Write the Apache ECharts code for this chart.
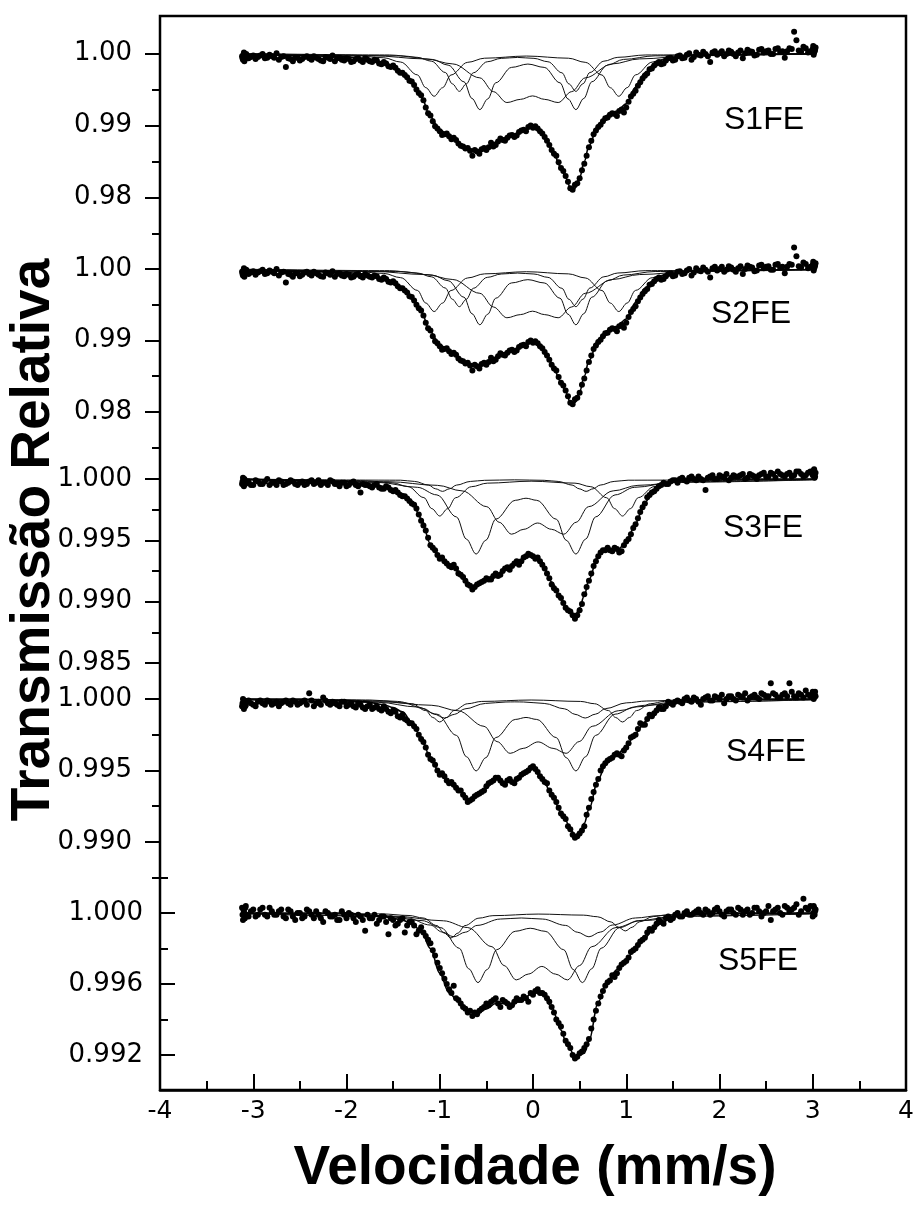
<!DOCTYPE html>
<html>
<head>
<meta charset="utf-8">
<title>Espectros Mössbauer S1FE–S5FE</title>
<script src="https://cdn.jsdelivr.net/npm/echarts@6/dist/echarts.min.js"></script>
<style>
  html, body { margin: 0; padding: 0; background: #fff; }
  #chart { width: 919px; height: 1208px; }
</style>
</head>
<body>
<div id="chart"></div>
<script>
// ---------------- data ----------------
// channel velocities (mm/s) of the two halves of the sweep
const velocitySweep1 = [-3.12,-3.11,-3.10,-3.09,-3.08,-3.05,-3.00,-2.95,-2.90,-2.85,-2.80,-2.75,-2.70,-2.65,-2.60,-2.55,-2.50,-2.45,-2.40,-2.35,-2.30,-2.25,-2.20,-2.15,-2.10,-2.05,-2.00,-1.95,-1.90,-1.85,-1.80,-1.75,-1.70,-1.65,-1.60,-1.55,-1.50,-1.45,-1.40,-1.35,-1.30,-1.25,-1.20,-1.15,-1.10,-1.05,-1.00,-0.95,-0.90,-0.85,-0.80,-0.75,-0.70,-0.65,-0.60,-0.55,-0.50,-0.45,-0.40,-0.35,-0.30,-0.25,-0.20,-0.15,-0.10,-0.05,0.00,0.05,0.10,0.15,0.20,0.25,0.30,0.35,0.40,0.45,0.50,0.55,0.60,0.65,0.70,0.75,0.80,0.85,0.90,0.95,1.00,1.05,1.10,1.15,1.20,1.25,1.30,1.35,1.40,1.45,1.50,1.55,1.60,1.65,1.70,1.75,1.80,1.85,1.90,1.95,2.00,2.05,2.10,2.15,2.20,2.25,2.30,2.35,2.40,2.45,2.50,2.55,2.60,2.65,2.70,2.75,2.80,2.85,2.90,2.95,3.00,3.01,3.02,3.03];
const velocitySweep2 = [-3.115,-3.105,-3.095,-3.085,-3.075,-3.025,-2.975,-2.925,-2.875,-2.825,
-2.775,-2.725,-2.675,-2.625,-2.575,-2.525,-2.475,-2.425,-2.375,-2.325,
-2.275,-2.225,-2.175,-2.125,-2.075,-2.025,-1.975,-1.925,-1.875,-1.825,
-1.775,-1.725,-1.675,-1.625,-1.575,-1.525,-1.475,-1.425,-1.375,-1.325,
-1.275,-1.225,-1.175,-1.125,-1.075,-1.025,-0.975,-0.925,-0.875,-0.825,
-0.775,-0.725,-0.675,-0.625,-0.575,-0.525,-0.475,-0.425,-0.375,-0.325,
-0.275,-0.225,-0.175,-0.125,-0.075,-0.025,0.025,0.075,0.125,0.175,
0.225,0.275,0.325,0.375,0.425,0.475,0.525,0.575,0.625,0.675,
0.725,0.775,0.825,0.875,0.925,0.975,1.025,1.075,1.125,1.175,
1.225,1.275,1.325,1.375,1.425,1.475,1.525,1.575,1.625,1.675,
1.725,1.775,1.825,1.875,1.925,1.975,2.025,2.075,2.125,2.175,
2.225,2.275,2.325,2.375,2.425,2.475,2.525,2.575,2.625,2.675,
2.725,2.775,2.825,2.875,2.925,2.975,3.005,3.015,3.025];

// measured relative transmission, first half of the sweep
const s1Transmission = [0.9996,0.9991,1.0001,0.9994,0.9998,0.9993,0.9997,0.9995,0.9999,0.9994,
0.9996,1.0000,0.9995,0.9981,0.9992,0.9994,0.9990,0.9995,0.9993,0.9996,
0.9992,0.9989,0.9994,0.9997,0.9993,0.9991,0.9993,0.9988,0.9992,0.9990,
0.9993,0.9989,0.9991,0.9986,0.9988,0.9982,0.9983,0.9976,0.9973,0.9967,
0.9961,0.9950,0.9942,0.9925,0.9914,0.9899,0.9892,0.9888,0.9885,0.9883,
0.9875,0.9871,0.9869,0.9858,0.9864,0.9867,0.9866,0.9876,0.9873,0.9882,
0.9879,0.9886,0.9884,0.9891,0.9894,0.9898,0.9897,0.9896,0.9889,0.9879,
0.9866,0.9858,0.9841,0.9830,0.9813,0.9818,0.9827,0.9847,0.9870,0.9888,
0.9898,0.9906,0.9911,0.9917,0.9913,0.9922,0.9925,0.9940,0.9948,0.9960,
0.9969,0.9978,0.9983,0.9988,0.9986,0.9993,0.9990,0.9996,0.9993,0.9998,
0.9991,1.0001,0.9997,0.9999,0.9988,1.0003,1.0000,0.9996,1.0004,0.9999,
1.0001,0.9993,1.0005,1.0002,0.9998,1.0006,1.0003,0.9999,1.0006,1.0002,
0.9994,1.0007,1.0030,1.0004,1.0009,1.0001,1.0006,0.9998,1.0003,1.0008];
const s2Transmission = s1Transmission.slice();
const s3Transmission = [0.9996,1.0001,0.9994,0.9999,0.9997,0.9998,0.9995,0.9998,0.9996,1.0000,
0.9997,0.9995,0.9998,0.9996,0.9999,0.9996,0.9997,0.9995,0.9998,0.9996,
0.9999,0.9997,0.9995,0.9998,0.9996,0.9997,0.9994,0.9997,0.9995,0.9989,
0.9995,0.9994,0.9995,0.9993,0.9992,0.9993,0.9990,0.9989,0.9986,0.9984,
0.9980,0.9976,0.9966,0.9958,0.9946,0.9942,0.9935,0.9933,0.9929,0.9930,
0.9923,0.9920,0.9914,0.9910,0.9914,0.9916,0.9919,0.9918,0.9923,0.9922,
0.9927,0.9926,0.9931,0.9930,0.9936,0.9939,0.9937,0.9936,0.9930,0.9923,
0.9914,0.9909,0.9903,0.9895,0.9892,0.9886,0.9893,0.9906,0.9917,0.9929,
0.9937,0.9942,0.9944,0.9941,0.9943,0.9941,0.9949,0.9955,0.9963,0.9973,
0.9980,0.9987,0.9990,0.9994,0.9997,0.9996,0.9999,0.9997,1.0001,0.9998,
1.0002,0.9999,1.0000,0.9991,1.0002,1.0000,1.0003,1.0001,0.9999,1.0003,
1.0002,1.0004,1.0001,1.0003,1.0000,1.0004,1.0002,1.0005,1.0001,1.0004,
1.0002,1.0005,1.0003,1.0006,1.0002,1.0005,1.0003,1.0007,1.0001,1.0005];
const s4Transmission = [0.9995,1.0000,0.9993,0.9998,0.9996,0.9999,0.9996,0.9998,0.9997,0.9999,
0.9996,0.9998,0.9997,0.9999,0.9996,0.9998,0.9997,0.9999,1.0004,0.9995,
0.9998,1.0001,0.9997,0.9998,0.9996,0.9998,0.9995,0.9997,0.9994,0.9996,
0.9993,0.9996,0.9994,0.9993,0.9995,0.9991,0.9992,0.9988,0.9989,0.9985,
0.9983,0.9979,0.9972,0.9966,0.9958,0.9954,0.9947,0.9946,0.9941,0.9940,
0.9936,0.9933,0.9928,0.9930,0.9933,0.9935,0.9939,0.9942,0.9945,0.9943,
0.9940,0.9944,0.9941,0.9945,0.9948,0.9950,0.9953,0.9949,0.9944,0.9941,
0.9933,0.9928,0.9920,0.9916,0.9909,0.9903,0.9906,0.9911,0.9924,0.9935,
0.9944,0.9953,0.9957,0.9959,0.9962,0.9960,0.9966,0.9973,0.9975,0.9983,
0.9982,0.9989,0.9990,0.9994,0.9993,0.9998,0.9996,0.9999,0.9997,1.0001,
0.9998,1.0000,0.9996,1.0001,0.9999,1.0002,1.0000,0.9997,1.0002,1.0000,
1.0003,1.0001,0.9999,1.0002,1.0001,1.0004,1.0002,1.0011,1.0003,1.0001,
1.0004,1.0011,1.0002,1.0004,1.0001,1.0003,1.0005,1.0000,1.0003,1.0002];
const s5Transmission = [1.0003,0.9996,1.0001,0.9997,1.0004,0.9998,1.0002,0.9999,1.0003,0.9998,
1.0001,0.9999,1.0002,0.9997,1.0001,0.9996,1.0000,0.9998,1.0001,0.9997,
0.9999,0.9995,1.0000,0.9998,0.9996,1.0001,0.9997,0.9999,0.9995,0.9998,
0.9990,0.9997,0.9999,0.9996,0.9998,0.9988,0.9996,0.9994,0.9997,0.9993,
0.9995,0.9988,0.9992,0.9987,0.9983,0.9976,0.9969,0.9963,0.9957,0.9959,
0.9951,0.9947,0.9944,0.9942,0.9943,0.9946,0.9949,0.9950,0.9952,0.9947,
0.9950,0.9947,0.9950,0.9951,0.9953,0.9950,0.9954,0.9957,0.9955,0.9952,
0.9947,0.9940,0.9936,0.9928,0.9924,0.9918,0.9921,0.9924,0.9929,0.9940,
0.9949,0.9956,0.9961,0.9965,0.9966,0.9971,0.9973,0.9978,0.9980,0.9984,
0.9986,0.9991,0.9992,0.9996,0.9994,0.9998,0.9997,1.0000,0.9998,1.0001,
0.9999,1.0001,1.0000,1.0002,0.9999,1.0002,1.0001,0.9998,1.0002,1.0000,
1.0003,0.9999,1.0002,1.0000,1.0003,0.9998,1.0001,0.9996,1.0002,1.0000,
1.0004,1.0001,1.0003,0.9999,1.0008,1.0002,0.9998,1.0004,0.9999,1.0002];

// measured relative transmission, second half of the sweep
const s1TransmissionB = [0.9993,0.9998,0.9989,0.9996,0.9999,0.9995,0.9992,0.9997,0.9993,0.9998,
0.9994,0.9991,0.9996,0.9993,0.9989,0.9994,0.9992,0.9996,0.9991,0.9994,
0.9990,0.9995,0.9992,0.9989,0.9994,0.9990,0.9992,0.9989,0.9993,0.9988,
0.9991,0.9988,0.9990,0.9985,0.9986,0.9981,0.9980,0.9973,0.9970,0.9962,
0.9956,0.9945,0.9935,0.9917,0.9906,0.9896,0.9887,0.9889,0.9881,0.9880,
0.9872,0.9868,0.9865,0.9866,0.9861,0.9869,0.9870,0.9871,0.9878,0.9880,
0.9883,0.9887,0.9886,0.9893,0.9892,0.9900,0.9899,0.9892,0.9884,0.9873,
0.9861,0.9849,0.9837,0.9822,0.9811,0.9820,0.9838,0.9858,0.9879,0.9893,
0.9901,0.9910,0.9915,0.9916,0.9920,0.9918,0.9933,0.9944,0.9955,0.9965,
0.9972,0.9979,0.9986,0.9985,0.9990,0.9994,0.9991,0.9997,0.9994,1.0000,
0.9995,0.9998,1.0002,0.9996,1.0001,0.9998,1.0003,0.9999,1.0002,0.9996,
1.0004,1.0000,1.0003,0.9997,1.0005,1.0001,1.0004,0.9999,1.0007,1.0003,
1.0003,1.0006,1.0018,1.0002,1.0007,1.0003,1.0010,1.0001,1.0005];
const s2TransmissionB = s1TransmissionB.slice();
const s3TransmissionB = [0.9998,0.9995,1.0000,0.9996,0.9997,0.9995,0.9999,0.9996,0.9998,0.9995,
0.9997,0.9999,0.9995,0.9997,0.9998,0.9995,0.9998,0.9996,0.9999,0.9997,
0.9995,0.9997,0.9999,0.9996,0.9994,0.9997,0.9995,0.9998,0.9994,0.9996,
0.9995,0.9993,0.9996,0.9992,0.9994,0.9991,0.9991,0.9987,0.9986,0.9982,
0.9979,0.9971,0.9962,0.9952,0.9944,0.9938,0.9936,0.9931,0.9928,0.9927,
0.9922,0.9917,0.9913,0.9912,0.9915,0.9917,0.9918,0.9921,0.9921,0.9925,
0.9928,0.9929,0.9933,0.9933,0.9937,0.9938,0.9935,0.9933,0.9927,0.9919,
0.9911,0.9905,0.9899,0.9893,0.9889,0.9889,0.9898,0.9912,0.9923,0.9933,
0.9940,0.9942,0.9942,0.9944,0.9940,0.9946,0.9951,0.9960,0.9968,0.9977,
0.9985,0.9989,0.9992,0.9995,0.9996,0.9998,0.9999,1.0000,0.9999,1.0001,
1.0000,1.0002,0.9999,1.0001,1.0003,1.0000,1.0002,1.0004,1.0001,1.0002,
1.0003,1.0000,1.0004,1.0002,1.0003,1.0005,1.0002,1.0004,1.0006,1.0003,
1.0004,1.0002,1.0006,1.0004,1.0003,1.0006,1.0004,1.0008,1.0002];
const s4TransmissionB = [0.9997,0.9994,0.9999,0.9995,0.9998,0.9997,0.9995,0.9999,0.9996,0.9998,
0.9997,0.9995,0.9998,0.9997,0.9999,0.9996,0.9998,0.9996,0.9999,0.9997,
0.9996,0.9999,0.9996,0.9997,0.9995,0.9998,0.9996,0.9995,0.9997,0.9994,
0.9995,0.9993,0.9995,0.9992,0.9993,0.9990,0.9991,0.9987,0.9986,0.9983,
0.9981,0.9975,0.9970,0.9961,0.9957,0.9950,0.9948,0.9943,0.9942,0.9938,
0.9936,0.9931,0.9929,0.9932,0.9934,0.9936,0.9941,0.9943,0.9945,0.9941,
0.9943,0.9942,0.9944,0.9947,0.9949,0.9952,0.9951,0.9946,0.9942,0.9936,
0.9931,0.9924,0.9918,0.9911,0.9905,0.9904,0.9908,0.9919,0.9930,0.9940,
0.9950,0.9955,0.9958,0.9961,0.9961,0.9964,0.9969,0.9974,0.9979,0.9982,
0.9986,0.9988,0.9992,0.9993,0.9995,0.9997,0.9998,0.9998,1.0000,0.9999,
1.0001,0.9998,1.0000,1.0002,0.9999,1.0001,1.0003,1.0000,1.0002,0.9999,
1.0002,1.0004,1.0001,1.0003,1.0000,1.0003,1.0002,1.0004,1.0001,1.0003,
1.0002,1.0005,1.0001,1.0003,1.0006,1.0002,1.0004,1.0001,1.0005];
const s5TransmissionB = [0.9999,1.0002,0.9997,1.0003,0.9999,1.0001,0.9998,1.0002,0.9999,1.0003,
0.9999,1.0001,0.9998,1.0002,0.9998,1.0000,0.9997,1.0002,0.9999,1.0001,
0.9997,1.0001,0.9998,0.9999,0.9996,0.9999,1.0000,0.9997,0.9999,0.9996,
0.9999,0.9997,0.9994,0.9998,0.9995,0.9997,0.9993,0.9996,0.9989,0.9995,
0.9993,0.9990,0.9989,0.9985,0.9979,0.9972,0.9966,0.9960,0.9955,0.9952,
0.9949,0.9946,0.9945,0.9944,0.9945,0.9947,0.9948,0.9951,0.9949,0.9951,
0.9949,0.9948,0.9952,0.9951,0.9952,0.9955,0.9956,0.9955,0.9954,0.9950,
0.9944,0.9938,0.9932,0.9926,0.9920,0.9919,0.9922,0.9926,0.9935,0.9945,
0.9953,0.9959,0.9962,0.9964,0.9969,0.9972,0.9975,0.9979,0.9982,0.9985,
0.9989,0.9990,0.9994,0.9995,0.9997,0.9996,0.9999,0.9998,1.0000,0.9999,
1.0000,1.0002,0.9999,1.0001,1.0000,1.0003,0.9999,1.0001,1.0002,0.9999,
1.0002,1.0001,0.9999,1.0003,1.0001,1.0000,1.0004,1.0001,1.0003,0.9999,
1.0003,1.0002,1.0005,1.0001,1.0003,1.0004,1.0000,1.0003,1.0001];

// fitted envelope (sum of sub-spectra)
const fitVelocity = [-3.1,-2.5,-2.0,-1.8,-1.6,-1.5,-1.4,-1.3,-1.2,-1.1,-1.0,-0.9,-0.8,-0.7,-0.65,-0.6,-0.5,-0.4,-0.3,-0.2,-0.1,0,0.1,0.2,0.3,0.35,0.4,0.45,0.5,0.55,0.6,0.7,0.8,0.9,1.0,1.1,1.2,1.3,1.4,1.5,1.7,2.0,2.5,3.03];
const s1Fit = [0.9998,0.9997,0.9995,0.9993,0.9987,0.9982,0.9973,0.9960,0.9940,0.9912,0.9894,0.9886,0.9876,0.9867,0.9864,0.9863,0.9868,0.9877,0.9883,0.9888,0.9895,0.9899,0.9890,0.9868,0.9842,0.9828,0.9814,0.9813,0.9828,0.9850,0.9872,0.9901,0.9914,0.9920,0.9930,0.9953,0.9973,0.9985,0.9991,0.9994,0.9997,0.9998,0.9999,0.9999];
const s2Fit = s1Fit.slice();
const s3Fit = [1.0000,0.9999,0.9998,0.9996,0.9994,0.9992,0.9988,0.9982,0.9968,0.9947,0.9936,0.9931,0.9925,0.9916,0.9912,0.9913,0.9919,0.9922,0.9926,0.9930,0.9935,0.9938,0.9931,0.9916,0.9902,0.9896,0.9891,0.9888,0.9895,0.9905,0.9918,0.9938,0.9943,0.9942,0.9948,0.9964,0.9981,0.9991,0.9996,0.9998,0.9999,1.0000,1.0000,1.0000];
const s4Fit = [1.0000,1.0000,0.9999,0.9998,0.9996,0.9994,0.9991,0.9984,0.9973,0.9959,0.9948,0.9942,0.9937,0.9930,0.9930,0.9932,0.9938,0.9944,0.9942,0.9942,0.9947,0.9951,0.9945,0.9933,0.9921,0.9915,0.9909,0.9905,0.9906,0.9913,0.9923,0.9944,0.9958,0.9961,0.9967,0.9976,0.9984,0.9991,0.9996,0.9998,0.9999,1.0000,1.0000,1.0000];
const s5Fit = [1.0000,1.0000,1.0000,0.9999,0.9998,0.9997,0.9996,0.9994,0.9990,0.9980,0.9966,0.9955,0.9950,0.9945,0.9944,0.9943,0.9946,0.9949,0.9949,0.9949,0.9952,0.9955,0.9955,0.9947,0.9934,0.9928,0.9923,0.9918,0.9920,0.9921,0.9928,0.9950,0.9962,0.9968,0.9974,0.9980,0.9986,0.9992,0.9995,0.9998,0.9999,1.0000,1.0000,1.0000];

// sub-spectra (quadrupole doublets), [velocity, transmission]
const s1DoubletA = [[-3.1,0.99994],[-1.96,0.99975],[-1.6,0.99938],[-1.42,0.99879],[-1.24,0.99701],[-1.15,0.99524],[-1.06,0.99405],[-0.97,0.99523],[-0.88,0.99699],[-0.7,0.99875],[-0.52,0.99932],[-0.07,0.99962],[0.38,0.99932],[0.56,0.99875],[0.74,0.99699],[0.83,0.99523],[0.92,0.99405],[1.01,0.99524],[1.1,0.99701],[1.28,0.99879],[1.46,0.99938],[1.82,0.99975],[3.03,0.99995]];
const s1DoubletB = [[-3.1,0.99995],[-1.42,0.99965],[-1.08,0.99915],[-0.91,0.99836],[-0.74,0.99605],[-0.655,0.99375],[-0.57,0.9922],[-0.485,0.99368],[-0.4,0.99591],[-0.23,0.99805],[-0.055,0.99851],[0.12,0.99805],[0.29,0.99591],[0.375,0.99368],[0.46,0.9922],[0.545,0.99375],[0.63,0.99605],[0.8,0.99836],[0.97,0.99915],[1.31,0.99965],[3.03,0.99995]];
const s1DoubletC = [[-3.1,0.9999],[-1.73,0.99967],[-1.15,0.99922],[-0.86,0.99853],[-0.57,0.9966],[-0.425,0.99469],[-0.28,0.99318],[-0.135,0.99362],[-0.005,0.9941],[0.125,0.99362],[0.27,0.99318],[0.415,0.99469],[0.56,0.9966],[0.85,0.99853],[1.14,0.99922],[1.72,0.99967],[3.03,0.9999]];
const s1DoubletD = [[-3.1,0.99997],[-1.54,0.99977],[-1.24,0.99944],[-1.09,0.99891],[-0.94,0.99734],[-0.865,0.99577],[-0.79,0.99473],[-0.715,0.99576],[-0.64,0.9973],[-0.49,0.99883],[-0.34,0.9993],[-0.165,0.99943],[0.01,0.9993],[0.16,0.99883],[0.31,0.9973],[0.385,0.99576],[0.46,0.99473],[0.535,0.99577],[0.61,0.99734],[0.76,0.99891],[0.91,0.99944],[1.21,0.99977],[3.03,0.99997]];

const s3DoubletA = [[-3.1,0.99998],[-1.85,0.99987],[-1.51,0.99969],[-1.34,0.99938],[-1.17,0.99848],[-1.085,0.99758],[-1.0,0.99698],[-0.915,0.99758],[-0.83,0.99847],[-0.66,0.99937],[-0.49,0.99966],[-0.02,0.99982],[0.45,0.99966],[0.62,0.99937],[0.79,0.99847],[0.875,0.99758],[0.96,0.99698],[1.045,0.99758],[1.13,0.99848],[1.3,0.99938],[1.47,0.99969],[1.81,0.99987],[3.03,0.99997]];
const s3DoubletB = [[-3.1,0.99994],[-1.66,0.99972],[-1.24,0.99932],[-1.03,0.9987],[-0.82,0.9969],[-0.715,0.9951],[-0.61,0.99388],[-0.505,0.99501],[-0.4,0.99672],[-0.19,0.99826],[-0.075,0.99843],[0.04,0.99826],[0.25,0.99672],[0.355,0.99501],[0.46,0.99388],[0.565,0.9951],[0.67,0.9969],[0.88,0.9987],[1.09,0.99932],[1.51,0.99972],[3.03,0.99994]];
const s3DoubletC = [[-3.1,0.99995],[-1.555,0.99978],[-1.025,0.99948],[-0.76,0.99903],[-0.495,0.99774],[-0.3625,0.99647],[-0.23,0.9955],[-0.0975,0.9959],[0.05,0.99641],[0.1975,0.9959],[0.33,0.9955],[0.4625,0.99647],[0.595,0.99774],[0.86,0.99903],[1.125,0.99948],[1.655,0.99978],[3.03,0.99994]];
const s3DoubletD = [[-3.1,0.99999],[-1.42,0.9999],[-1.27,0.9998],[-1.12,0.9995],[-1.045,0.9992],[-0.97,0.99899],[-0.895,0.9992],[-0.82,0.9995],[-0.67,0.9998],[-0.52,0.99989],[-0.2,0.99993],[0.12,0.99989],[0.27,0.9998],[0.42,0.9995],[0.495,0.9992],[0.57,0.99899],[0.645,0.9992],[0.72,0.9995],[0.87,0.9998],[1.02,0.9999],[3.03,0.99999]];

const s4DoubletA = [[-3.1,0.99999],[-1.75,0.99993],[-1.45,0.99983],[-1.3,0.99967],[-1.15,0.99919],[-1.075,0.99871],[-1.0,0.99839],[-0.925,0.99871],[-0.85,0.99919],[-0.7,0.99967],[-0.55,0.99983],[-0.02,0.99993],[0.51,0.99983],[0.66,0.99967],[0.81,0.99919],[0.885,0.99871],[0.96,0.99839],[1.035,0.99871],[1.11,0.99919],[1.26,0.99967],[1.41,0.99983],[1.71,0.99993],[3.03,0.99999]];
const s4DoubletB = [[-3.1,0.99995],[-1.66,0.99977],[-1.24,0.99944],[-1.03,0.99894],[-0.82,0.99745],[-0.715,0.99597],[-0.61,0.99497],[-0.505,0.9959],[-0.4,0.9973],[-0.19,0.99857],[-0.075,0.99871],[0.04,0.99857],[0.25,0.9973],[0.355,0.9959],[0.46,0.99497],[0.565,0.99597],[0.67,0.99745],[0.88,0.99894],[1.09,0.99944],[1.51,0.99977],[3.03,0.99995]];
const s4DoubletC = [[-3.1,0.99995],[-1.645,0.99981],[-1.085,0.99956],[-0.805,0.99918],[-0.525,0.99809],[-0.385,0.99702],[-0.245,0.9962],[-0.105,0.99655],[0.055,0.997],[0.215,0.99655],[0.355,0.9962],[0.495,0.99702],[0.635,0.99809],[0.915,0.99918],[1.195,0.99956],[1.755,0.99981],[3.03,0.99995]];
const s4DoubletD = [[-3.1,0.99998],[-2.05,0.99994],[-1.61,0.99986],[-1.39,0.99973],[-1.17,0.99933],[-1.06,0.99894],[-0.95,0.99867],[-0.84,0.99893],[-0.73,0.99931],[-0.51,0.99969],[-0.29,0.99979],[-0.195,0.9998],[-0.1,0.99979],[0.12,0.99969],[0.34,0.99931],[0.45,0.99893],[0.56,0.99867],[0.67,0.99894],[0.78,0.99933],[1.0,0.99973],[1.22,0.99986],[1.66,0.99994],[3.03,0.99999]];

const s5DoubletA = [[-3.1,0.99999],[-1.63,0.99995],[-1.33,0.99986],[-1.18,0.99972],[-1.03,0.99929],[-0.955,0.99888],[-0.88,0.99859],[-0.805,0.99887],[-0.73,0.99929],[-0.58,0.99971],[-0.43,0.99985],[0.055,0.99994],[0.54,0.99988],[0.69,0.99979],[0.84,0.99949],[0.915,0.9992],[0.99,0.99899],[1.065,0.9992],[1.14,0.9995],[1.29,0.9998],[1.44,0.9999],[1.74,0.99996],[3.03,0.99999]];
const s5DoubletB = [[-3.1,0.99996],[-1.59,0.99982],[-1.19,0.99957],[-0.99,0.99918],[-0.79,0.99801],[-0.69,0.99686],[-0.59,0.99608],[-0.49,0.99682],[-0.39,0.99793],[-0.19,0.99897],[-0.03,0.99914],[0.13,0.99897],[0.33,0.99793],[0.43,0.99682],[0.53,0.99608],[0.63,0.99686],[0.73,0.99801],[0.93,0.99918],[1.13,0.99957],[1.53,0.99982],[3.03,0.99996]];
const s5DoubletC = [[-3.1,0.99996],[-1.48,0.99982],[-0.96,0.99956],[-0.7,0.99918],[-0.44,0.9981],[-0.31,0.99704],[-0.18,0.99623],[-0.05,0.99656],[0.095,0.99699],[0.24,0.99656],[0.37,0.99623],[0.5,0.99704],[0.63,0.9981],[0.89,0.99918],[1.15,0.99956],[1.67,0.99982],[3.03,0.99996]];
const s5DoubletD = [[-3.1,0.99998],[-2.1,0.99994],[-1.6,0.99985],[-1.35,0.99972],[-1.1,0.99932],[-0.975,0.99893],[-0.85,0.99866],[-0.725,0.99892],[-0.6,0.9993],[-0.35,0.99966],[-0.125,0.99972],[0.1,0.99966],[0.35,0.9993],[0.475,0.99892],[0.6,0.99866],[0.725,0.99893],[0.85,0.99932],[1.1,0.99972],[1.35,0.99985],[1.85,0.99994],[3.03,0.99998]];

// sample names and axis ticks
const sampleNames = ['S1FE', 'S2FE', 'S3FE', 'S4FE', 'S5FE'];
const yTickValues = [[1.00, 0.99, 0.98], [1.00, 0.99, 0.98], [1.000, 0.995, 0.990, 0.985], [1.000, 0.995, 0.990], [1.000, 0.996, 0.992]];
const yTickLabels = [['1.00', '0.99', '0.98'], ['1.00', '0.99', '0.98'], ['1.000', '0.995', '0.990', '0.985'], ['1.000', '0.995', '0.990'], ['1.000', '0.996', '0.992']];
const yMinorTicks = [[0.995, 0.985, 0.975], [0.995, 0.985, 0.975], [0.9975, 0.9925, 0.9875], [0.9975, 0.9925, 0.9875], [1.002, 0.998, 0.994]];
const xTickValues = [-4, -3, -2, -1, 0, 1, 2, 3, 4];
const xTickLabels = ['-4', '-3', '-2', '-1', '0', '1', '2', '3', '4'];
const xTitle = 'Velocidade (mm/s)';
const yTitle = 'Transmissão Relativa';

// ---------------- layout ----------------
const PLOT_LEFT = 160, PLOT_RIGHT = 13, PLOT_TOP = 16, PLOT_BOTTOM = 118;
// vertical placement and value window of each stacked spectrum
const panelBoxes = [
  { top: 17.2,  height: 216.6, min: 0.975, max: 1.005, inside: false, margin: 28, label: [764, 120] },
  { top: 233.25, height: 214.5, min: 0.975, max: 1.005, inside: false, margin: 28, label: [751, 314] },
  { top: 448.3, height: 214.7, min: 0.985, max: 1.0025, inside: false, margin: 28, label: [763, 528] },
  { top: 663.25, height: 214.5, min: 0.9875, max: 1.0025, inside: false, margin: 28, label: [766, 752] },
  { top: 877.5, height: 213,   min: 0.990, max: 1.002, inside: true,  margin: 17, label: [758, 961] }
];

const spectra = [
  { sweeps: [s1Transmission, s1TransmissionB], fit: s1Fit, doublets: [s1DoubletA, s1DoubletB, s1DoubletC, s1DoubletD] },
  { sweeps: [s2Transmission, s2TransmissionB], fit: s2Fit, doublets: [s1DoubletA, s1DoubletB, s1DoubletC, s1DoubletD] },
  { sweeps: [s3Transmission, s3TransmissionB], fit: s3Fit, doublets: [s3DoubletA, s3DoubletB, s3DoubletC, s3DoubletD] },
  { sweeps: [s4Transmission, s4TransmissionB], fit: s4Fit, doublets: [s4DoubletA, s4DoubletB, s4DoubletC, s4DoubletD] },
  { sweeps: [s5Transmission, s5TransmissionB], fit: s5Fit, doublets: [s5DoubletA, s5DoubletB, s5DoubletC, s5DoubletD] }
];
const sweepVelocities = [velocitySweep1, velocitySweep2];

const zip = (xs, ys) => xs.map((x, k) => [x, ys[k]]);
const TICK_FONT = 'DejaVu Sans';

const grid = [{
  left: PLOT_LEFT, right: PLOT_RIGHT, top: PLOT_TOP, bottom: PLOT_BOTTOM,
  show: true, borderColor: '#000', borderWidth: 2.5, backgroundColor: 'transparent'
}];
const xAxis = [{
  gridIndex: 0, type: 'value', min: -4, max: 4, interval: 1,
  axisLine: { show: true, onZero: false, lineStyle: { color: '#000', width: 2.5 } },
  axisTick: { show: true, inside: true, length: 16, lineStyle: { color: '#000', width: 2 } },
  minorTick: { show: true, splitNumber: 2, length: 9, lineStyle: { color: '#000', width: 2 } },
  axisLabel: {
    color: '#000', fontFamily: TICK_FONT, fontSize: 25, margin: 9,
    formatter: v => { const k = xTickValues.indexOf(Math.round(v)); return k >= 0 ? xTickLabels[k] : ''; }
  },
  splitLine: { show: false }
}];
const yAxis = [{ gridIndex: 0, type: 'value', min: 0, max: 1, show: false }];
const series = [];
const graphic = [];

panelBoxes.forEach((box, i) => {
  const g = i + 1;
  grid.push({ left: PLOT_LEFT, right: PLOT_RIGHT, top: box.top, height: box.height, show: false });
  xAxis.push({ gridIndex: g, type: 'value', min: -4, max: 4, show: false, axisLine: { onZero: false } });
  const major = yAxis.length;
  yAxis.push({
    gridIndex: g, type: 'value', position: 'left', min: box.min, max: box.max,
    axisLine: { show: false, onZero: false },
    axisTick: { show: true, inside: box.inside, length: 15, customValues: yTickValues[i], lineStyle: { color: '#000', width: 2 } },
    axisLabel: {
      show: true, customValues: yTickValues[i], margin: box.margin,
      color: '#000', fontFamily: TICK_FONT, fontSize: 26,
      formatter: v => {
        const k = yTickValues[i].findIndex(t => Math.abs(t - v) < 1e-6);
        return k >= 0 ? yTickLabels[i][k] : '';
      }
    },
    splitLine: { show: false }
  });
  yAxis.push({
    gridIndex: g, type: 'value', position: 'left', min: box.min, max: box.max,
    axisLine: { show: false, onZero: false },
    axisTick: { show: true, inside: box.inside, length: 8, customValues: yMinorTicks[i], lineStyle: { color: '#000', width: 2 } },
    axisLabel: { show: false },
    splitLine: { show: false }
  });

  const sp = spectra[i];
  sp.doublets.forEach(d => {
    series.push({
      type: 'line', xAxisIndex: g, yAxisIndex: major, data: d,
      smooth: 0.35, smoothMonotone: 'x', showSymbol: false, silent: true,
      lineStyle: { color: '#111', width: 1 }, z: 2
    });
  });
  series.push({
    type: 'line', xAxisIndex: g, yAxisIndex: major, data: zip(fitVelocity, sp.fit),
    smooth: 0.35, smoothMonotone: 'x', showSymbol: false, silent: true,
    lineStyle: { color: '#000', width: 1.6 }, z: 3
  });
  sp.sweeps.forEach((values, s) => {
    series.push({
      type: 'scatter', xAxisIndex: g, yAxisIndex: major, data: zip(sweepVelocities[s], values),
      symbol: 'circle', symbolSize: 6, silent: true,
      itemStyle: { color: '#000', opacity: 1 }, z: 4
    });
  });

  graphic.push({
    type: 'text', x: box.label[0], y: box.label[1],
    style: { text: sampleNames[i], fill: '#000', font: '32px "Liberation Sans", Arial, sans-serif', align: 'center', verticalAlign: 'middle' }
  });
});

graphic.push({
  type: 'text', x: 34, y: 540, rotation: Math.PI / 2,
  style: { text: yTitle, fill: '#000', font: 'bold 55px "Liberation Sans", Arial, sans-serif', align: 'center', verticalAlign: 'middle' }
});
graphic.push({
  type: 'text', x: 535, y: 1169,
  style: { text: xTitle, fill: '#000', font: 'bold 55px "Liberation Sans", Arial, sans-serif', align: 'center', verticalAlign: 'middle' }
});

const chart = echarts.init(document.getElementById('chart'), null, { renderer: 'canvas', width: 919, height: 1208 });
chart.setOption({
  animation: false,
  backgroundColor: '#fff',
  grid, xAxis, yAxis, series, graphic
});
</script>
</body>
</html>
